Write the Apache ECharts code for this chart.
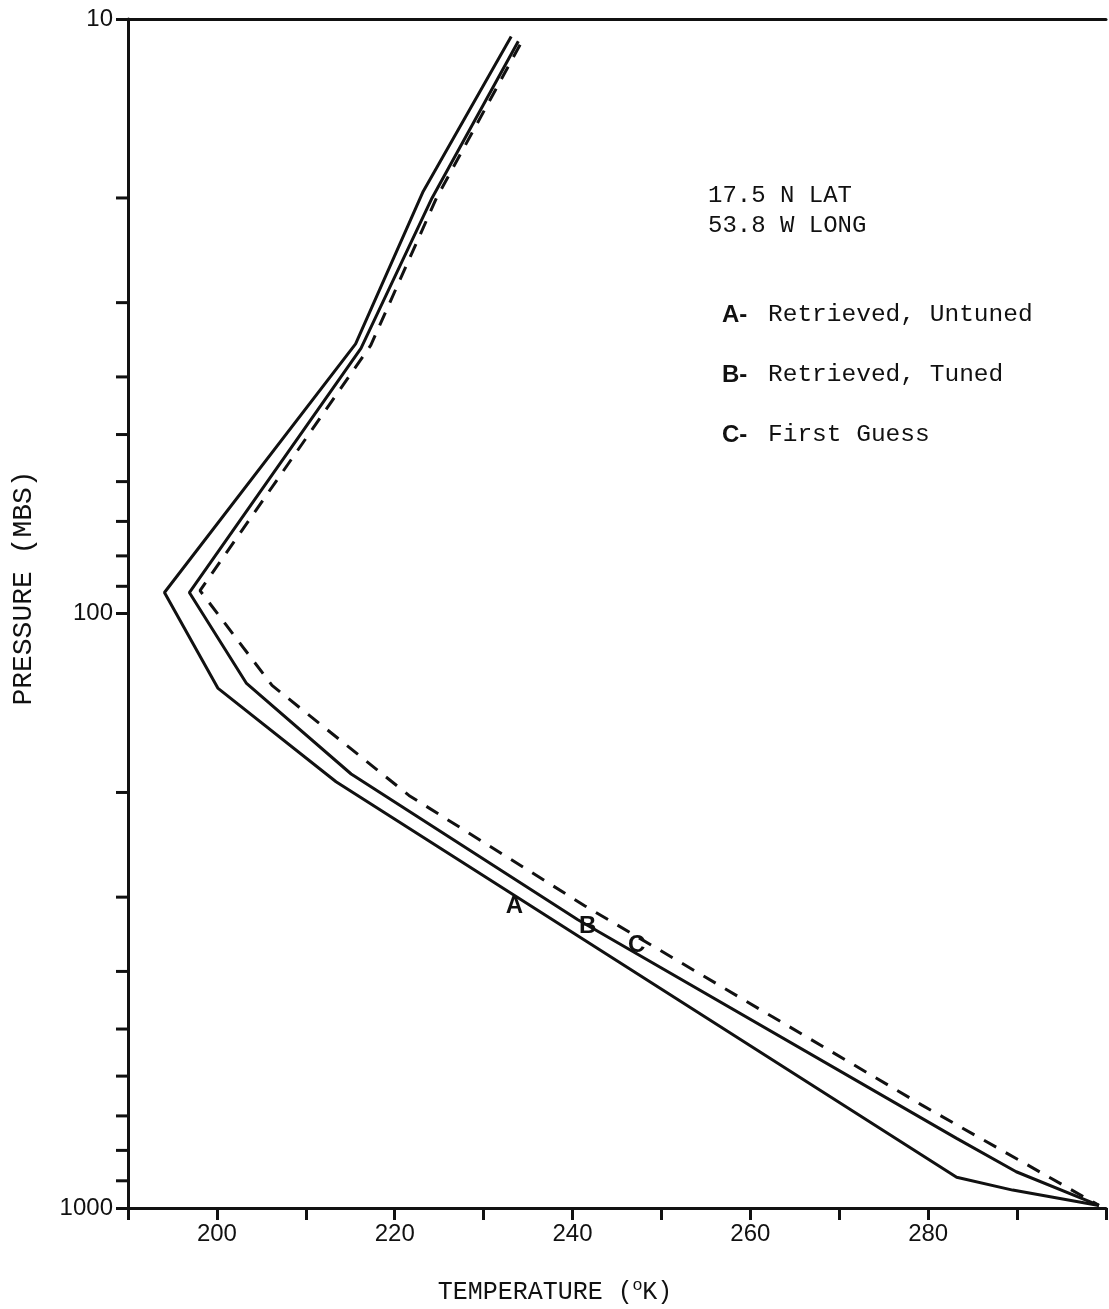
<!DOCTYPE html>
<html>
<head>
<meta charset="utf-8">
<script src="https://cdn.jsdelivr.net/npm/echarts@6/dist/echarts.min.js"></script>
<style>
  html, body { margin: 0; padding: 0; background: #fff; }
  #chart { width: 1109px; height: 1309px; }
</style>
</head>
<body>
<div id="chart"></div>
<script>
// Temperature (K) / pressure (mb) profiles
const tempA = [233.1, 223.2, 215.6, 194.1, 200.1, 213.4, 283.2, 289.5, 299.2];
const presA = [10.7, 19.5, 35.2, 92.2, 133.5, 191.9, 888, 933, 990];

const tempB = [233.9, 224.2, 216.2, 196.9, 203.3, 215.1, 240.6, 283.2, 289.9, 299.2];
const presB = [10.9, 20.0, 35.8, 92.2, 130.9, 186.2, 327.4, 763.7, 869, 990];

const tempC = [234.1, 224.7, 217.3, 198.1, 206.2, 221.6, 241.4, 279.3, 299.2];
const presC = [11.05, 20.0, 35.4, 91.5, 132.1, 202.3, 310.4, 671.3, 990];

// curve tags written on the lines
const tagNames = ['A', 'B', 'C'];
const tagTemps = [233.45, 241.7, 247.2];
const tagPres = [310.8, 335.7, 361.6];

// axis ticks
const tempMin = 190, tempMax = 300, tempStep = 10;
const tempLabels = [200, 220, 240, 260, 280];
const presMin = 10, presMax = 1000;
const presMinorTicks = [20, 30, 40, 50, 60, 70, 80, 90, 200, 300, 400, 500, 600, 700, 800, 900];

const legendKeys = ['A-', 'B-', 'C-'];
const legendTexts = ['Retrieved, Untuned', 'Retrieved, Tuned', 'First Guess'];
const siteLines = ['17.5 N LAT', '53.8 W LONG'];

const zip = (t, p) => t.map((v, i) => [v, p[i]]);

const ink = '#111';
const mono = '"Liberation Mono", "DejaVu Sans Mono", monospace';
const sans = '"Liberation Sans", Arial, sans-serif';

const chart = echarts.init(document.getElementById('chart'), null, { renderer: 'canvas' });

const graphics = [];
siteLines.forEach((t, i) => {
  graphics.push({
    type: 'text',
    style: { x: 708, y: 196 + i * 30, text: t, font: '24px ' + mono, fill: ink, verticalAlign: 'middle' }
  });
});
legendKeys.forEach((k, i) => {
  graphics.push({
    type: 'text',
    style: { x: 722, y: 315 + i * 60, text: k, font: 'bold 24px ' + sans, fill: ink, verticalAlign: 'middle' }
  });
  graphics.push({
    type: 'text',
    style: { x: 768, y: 315 + i * 60, text: legendTexts[i], font: '24.5px ' + mono, fill: ink, verticalAlign: 'middle' }
  });
});
graphics.push({
  type: 'text',
  rotation: Math.PI / 2,
  x: 24, y: 588,
  style: { text: 'PRESSURE (MBS)', font: '28px ' + mono, fill: ink, align: 'center', verticalAlign: 'middle' }
});
graphics.push({
  type: 'text',
  x: 555, y: 1292,
  style: {
    text: '{a|TEMPERATURE (}{s|o}{a|K)}',
    align: 'center', verticalAlign: 'middle',
    rich: {
      a: { font: '25px ' + mono, fill: ink, lineHeight: 30 },
      s: { font: '17px ' + sans, fill: ink, verticalAlign: 'top', lineHeight: 30, padding: [0, 0, 10, 0] }
    }
  }
});

chart.setOption({
  animation: false,
  backgroundColor: '#fff',
  grid: { left: 128, right: 0, top: 19, bottom: 101, containLabel: false },
  xAxis: [
    {
      type: 'value', position: 'bottom',
      min: tempMin, max: tempMax, interval: tempStep,
      axisLine: { show: true, lineStyle: { color: ink, width: 3 } },
      axisTick: { show: true, length: 12, lineStyle: { color: ink, width: 3 } },
      axisLabel: {
        show: true, margin: 14, fontFamily: sans, fontSize: 24, color: ink,
        formatter: v => (tempLabels.indexOf(v) >= 0 ? String(v) : '')
      },
      splitLine: { show: false }
    },
    {
      type: 'value', position: 'top',
      min: tempMin, max: tempMax, interval: tempStep,
      axisLine: { show: true, lineStyle: { color: ink, width: 3 } },
      axisTick: { show: false }, axisLabel: { show: false }, splitLine: { show: false }
    }
  ],
  yAxis: {
    type: 'log', logBase: 10, inverse: true,
    min: presMin, max: presMax, interval: 1,
    axisLine: { show: true, lineStyle: { color: ink, width: 3 } },
    axisTick: { show: true, length: 12, lineStyle: { color: ink, width: 3 } },
    axisLabel: {
      show: true, margin: 15, fontFamily: sans, fontSize: 24, color: ink,
      formatter: v => String(Math.round(v))
    },
    splitLine: { show: false }
  },
  graphic: graphics,
  series: [
    {
      name: 'A', type: 'line', data: zip(tempA, presA), symbol: 'none',
      lineStyle: { color: ink, width: 3 }
    },
    {
      name: 'B', type: 'line', data: zip(tempB, presB), symbol: 'none',
      lineStyle: { color: ink, width: 3 }
    },
    {
      name: 'C', type: 'line', data: zip(tempC, presC), symbol: 'none',
      lineStyle: { color: ink, width: 3, type: [14, 11] }
    },
    {
      name: 'tags', type: 'custom', clip: false, z: 5,
      data: tagNames.map((n, i) => [tagTemps[i], tagPres[i], i]),
      renderItem: (params, api) => {
        const pt = api.coord([api.value(0), api.value(1)]);
        return {
          type: 'text',
          style: {
            x: pt[0], y: pt[1], text: tagNames[api.value(2)],
            font: 'bold 24px ' + sans, fill: ink, align: 'center', verticalAlign: 'middle'
          }
        };
      }
    },
    {
      name: 'minorTicks', type: 'custom', clip: false,
      data: presMinorTicks.map(p => [tempMin, p]),
      renderItem: (params, api) => {
        const pt = api.coord([api.value(0), api.value(1)]);
        return {
          type: 'line',
          shape: { x1: pt[0] - 12, y1: pt[1], x2: pt[0], y2: pt[1] },
          style: { stroke: ink, lineWidth: 3 }
        };
      }
    }
  ]
});
</script>
</body>
</html>
